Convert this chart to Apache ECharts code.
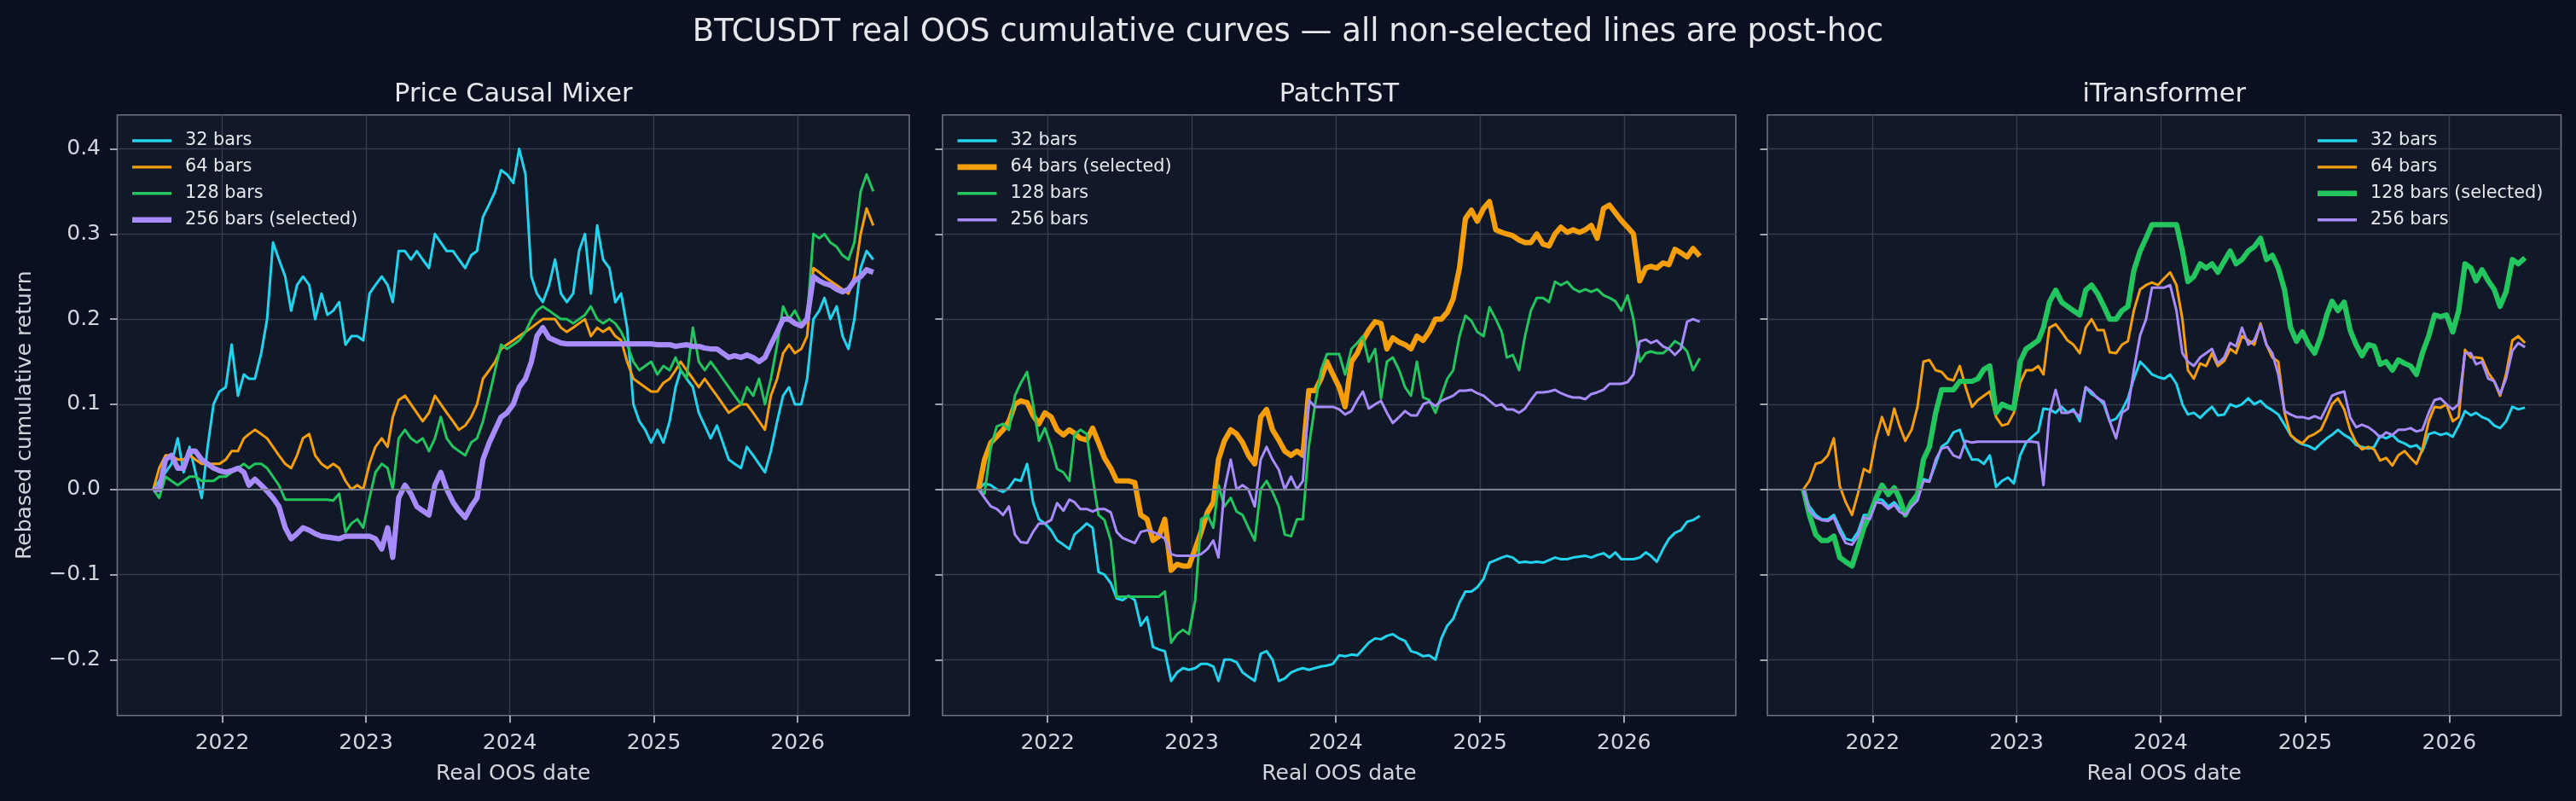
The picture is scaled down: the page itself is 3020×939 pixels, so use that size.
<!DOCTYPE html>
<html><head><meta charset="utf-8">
<script src="https://cdn.jsdelivr.net/npm/echarts@6/dist/echarts.min.js"></script>
<style>html,body{margin:0;padding:0;background:#0b1020;}#c{width:3020px;height:939px;}</style>
</head><body><div id="c"></div>
<script>
const suptitle = 'BTCUSDT real OOS cumulative curves \u2014 all non-selected lines are post-hoc';
const panelTitles = ['Price Causal Mixer', 'PatchTST', 'iTransformer'];
const lookbacks = ['32 bars', '64 bars', '128 bars', '256 bars'];
const selectedIdx = [3, 1, 2];
const xLabel = 'Real OOS date';
const yLabel = 'Rebased cumulative return';
const yearTicks = ['2022-01-01', '2023-01-01', '2024-01-01', '2025-01-01', '2026-01-01'];
const yTicks = [-0.2, -0.1, 0.0, 0.1, 0.2, 0.3, 0.4];

const dates = [
'2021-07-10','2021-07-25','2021-08-10','2021-08-25','2021-09-10','2021-09-25','2021-10-10','2021-10-25','2021-11-10','2021-11-25','2021-12-10','2021-12-25',
'2022-01-10','2022-01-25','2022-02-10','2022-02-25','2022-03-10','2022-03-25','2022-04-10','2022-04-25','2022-05-10','2022-05-25','2022-06-10','2022-06-25',
'2022-07-10','2022-07-25','2022-08-10','2022-08-25','2022-09-10','2022-09-25','2022-10-10','2022-10-25','2022-11-10','2022-11-25','2022-12-10','2022-12-25',
'2023-01-10','2023-01-25','2023-02-10','2023-02-25','2023-03-10','2023-03-25','2023-04-10','2023-04-25','2023-05-10','2023-05-25','2023-06-10','2023-06-25',
'2023-07-10','2023-07-25','2023-08-10','2023-08-25','2023-09-10','2023-09-25','2023-10-10','2023-10-25','2023-11-10','2023-11-25','2023-12-10','2023-12-25',
'2024-01-10','2024-01-25','2024-02-10','2024-02-25','2024-03-10','2024-03-25','2024-04-10','2024-04-25','2024-05-10','2024-05-25','2024-06-10','2024-06-25',
'2024-07-10','2024-07-25','2024-08-10','2024-08-25','2024-09-10','2024-09-25','2024-10-10','2024-10-25','2024-11-10','2024-11-25','2024-12-10','2024-12-25',
'2025-01-10','2025-01-25','2025-02-10','2025-02-25','2025-03-10','2025-03-25','2025-04-10','2025-04-25','2025-05-10','2025-05-25','2025-06-10','2025-06-25',
'2025-07-10','2025-07-25','2025-08-10','2025-08-25','2025-09-10','2025-09-25','2025-10-10','2025-10-25','2025-11-10','2025-11-25','2025-12-10','2025-12-25',
'2026-01-10','2026-01-25','2026-02-10','2026-02-25','2026-03-10','2026-03-25','2026-04-10','2026-04-25','2026-05-10','2026-05-25','2026-06-10','2026-06-25','2026-07-12'
];

// Price Causal Mixer
const pcm32 = [
0.0,0.01,0.02,0.03,0.06,0.02,0.05,0.02,-0.01,0.05,0.1,0.115,
0.12,0.17,0.11,0.135,0.13,0.13,0.16,0.2,0.29,0.27,0.25,0.21,0.24,0.25,0.24,0.2,0.23,0.205,0.21,0.22,0.17,0.18,0.18,0.175,
0.23,0.24,0.25,0.24,0.22,0.28,0.28,0.27,0.28,0.27,0.26,0.3,0.29,0.28,0.28,0.27,0.26,0.275,0.28,0.32,0.335,0.35,0.375,0.37,
0.36,0.4,0.37,0.25,0.23,0.22,0.24,0.27,0.23,0.22,0.23,0.28,0.3,0.23,0.31,0.27,0.26,0.22,0.23,0.19,0.1,0.08,0.07,0.055,
0.07,0.055,0.08,0.12,0.14,0.13,0.12,0.09,0.075,0.06,0.075,0.055,0.035,0.03,0.025,0.05,0.04,0.03,0.02,0.045,0.08,0.11,0.12,0.1,
0.1,0.13,0.2,0.21,0.225,0.2,0.215,0.18,0.165,0.2,0.26,0.28,0.27];
const pcm64 = [
0.0,0.025,0.04,0.04,0.035,0.035,0.04,0.035,0.03,0.03,0.03,0.03,
0.035,0.045,0.045,0.06,0.065,0.07,0.065,0.06,0.05,0.04,0.03,0.025,0.04,0.06,0.065,0.04,0.03,0.025,0.03,0.025,0.01,0.0,0.005,0.0,
0.03,0.05,0.06,0.05,0.085,0.105,0.11,0.1,0.09,0.08,0.09,0.11,0.1,0.09,0.08,0.07,0.075,0.085,0.1,0.13,0.14,0.15,0.165,0.17,
0.175,0.18,0.185,0.19,0.195,0.2,0.2,0.2,0.19,0.185,0.19,0.195,0.2,0.18,0.19,0.185,0.19,0.18,0.175,0.15,0.13,0.125,0.12,0.115,
0.115,0.125,0.13,0.14,0.15,0.14,0.13,0.12,0.13,0.12,0.11,0.1,0.09,0.095,0.1,0.1,0.09,0.08,0.07,0.11,0.13,0.16,0.17,0.16,
0.165,0.18,0.26,0.255,0.25,0.245,0.24,0.235,0.23,0.25,0.3,0.33,0.31];
const pcm128 = [
0.0,-0.01,0.015,0.01,0.005,0.01,0.015,0.015,0.01,0.01,0.01,0.015,
0.015,0.02,0.025,0.03,0.025,0.03,0.03,0.025,0.015,0.005,-0.012,-0.012,-0.012,-0.012,-0.012,-0.012,-0.012,-0.012,-0.013,-0.005,-0.05,-0.04,-0.035,-0.045,
-0.01,0.02,0.03,0.025,0.0,0.06,0.07,0.06,0.055,0.06,0.045,0.06,0.085,0.06,0.05,0.045,0.04,0.055,0.06,0.08,0.11,0.14,0.17,0.165,
0.17,0.175,0.185,0.2,0.21,0.215,0.21,0.205,0.2,0.2,0.195,0.2,0.205,0.215,0.2,0.195,0.2,0.195,0.185,0.17,0.15,0.14,0.145,0.15,
0.135,0.145,0.14,0.155,0.14,0.13,0.19,0.15,0.14,0.15,0.14,0.13,0.12,0.11,0.1,0.12,0.11,0.13,0.1,0.13,0.17,0.215,0.2,0.21,
0.195,0.2,0.3,0.295,0.3,0.29,0.285,0.275,0.27,0.29,0.35,0.37,0.35];
const pcm256 = [
0.0,0.0,0.035,0.04,0.025,0.025,0.045,0.045,0.035,0.03,0.025,0.022,
0.02,0.022,0.025,0.02,0.005,0.012,0.005,-0.002,-0.01,-0.02,-0.045,-0.058,-0.052,-0.045,-0.048,-0.052,-0.055,-0.056,-0.057,-0.058,-0.055,-0.055,-0.055,-0.055,
-0.055,-0.058,-0.07,-0.045,-0.08,-0.01,0.005,-0.005,-0.02,-0.025,-0.03,0.005,0.02,0.0,-0.015,-0.025,-0.033,-0.02,-0.01,0.035,0.055,0.07,0.085,0.09,
0.1,0.12,0.13,0.15,0.18,0.19,0.178,0.175,0.172,0.171,0.171,0.171,0.171,0.171,0.171,0.171,0.171,0.171,0.171,0.171,0.171,0.171,0.171,0.171,
0.17,0.17,0.17,0.168,0.169,0.17,0.168,0.168,0.166,0.165,0.165,0.16,0.155,0.157,0.155,0.158,0.155,0.15,0.155,0.17,0.185,0.2,0.2,0.195,
0.192,0.2,0.25,0.245,0.242,0.24,0.235,0.232,0.235,0.245,0.25,0.258,0.255];

// PatchTST
const pt32 = [
0.0,0.007,0.005,0.0,-0.003,0.002,0.012,0.01,0.03,-0.015,-0.035,-0.04,
-0.048,-0.06,-0.065,-0.07,-0.053,-0.047,-0.04,-0.045,-0.097,-0.1,-0.11,-0.128,-0.13,-0.125,-0.13,-0.16,-0.15,-0.185,-0.188,-0.19,-0.225,-0.215,-0.21,-0.212,
-0.21,-0.205,-0.205,-0.208,-0.225,-0.2,-0.2,-0.203,-0.215,-0.22,-0.225,-0.193,-0.19,-0.2,-0.225,-0.222,-0.215,-0.212,-0.21,-0.212,-0.21,-0.208,-0.207,-0.205,
-0.195,-0.196,-0.194,-0.195,-0.188,-0.18,-0.175,-0.176,-0.172,-0.17,-0.175,-0.178,-0.19,-0.192,-0.196,-0.195,-0.2,-0.175,-0.16,-0.152,-0.133,-0.12,-0.12,-0.115,
-0.105,-0.086,-0.083,-0.08,-0.078,-0.08,-0.086,-0.085,-0.086,-0.085,-0.086,-0.083,-0.08,-0.082,-0.082,-0.08,-0.079,-0.078,-0.08,-0.077,-0.075,-0.08,-0.074,-0.082,
-0.082,-0.082,-0.08,-0.074,-0.078,-0.085,-0.07,-0.058,-0.051,-0.048,-0.038,-0.036,-0.031];
const pt64 = [
0.0,0.035,0.055,0.062,0.07,0.08,0.1,0.104,0.102,0.087,0.077,0.09,
0.085,0.07,0.064,0.07,0.066,0.06,0.058,0.072,0.055,0.037,0.025,0.01,0.01,0.01,0.008,-0.03,-0.035,-0.06,-0.055,-0.035,-0.095,-0.088,-0.09,-0.09,
-0.07,-0.05,-0.027,-0.015,0.035,0.057,0.07,0.065,0.055,0.04,0.03,0.085,0.094,0.07,0.058,0.045,0.04,0.045,0.04,0.116,0.116,0.13,0.15,0.135,
0.12,0.097,0.15,0.16,0.175,0.187,0.197,0.195,0.165,0.178,0.173,0.17,0.165,0.18,0.175,0.185,0.2,0.2,0.208,0.224,0.26,0.318,0.328,0.315,
0.33,0.338,0.305,0.302,0.3,0.298,0.293,0.29,0.29,0.3,0.288,0.286,0.3,0.308,0.302,0.305,0.302,0.305,0.31,0.295,0.33,0.334,0.325,0.316,
0.308,0.3,0.245,0.26,0.262,0.26,0.266,0.264,0.282,0.278,0.273,0.283,0.274];
const pt128 = [
0.0,-0.005,0.05,0.074,0.077,0.07,0.11,0.125,0.138,0.1,0.057,0.072,
0.05,0.024,0.02,0.01,0.064,0.07,0.065,0.014,-0.03,-0.036,-0.06,-0.126,-0.126,-0.126,-0.126,-0.126,-0.126,-0.126,-0.126,-0.12,-0.18,-0.17,-0.165,-0.17,
-0.13,-0.035,-0.03,-0.045,0.005,-0.02,-0.01,-0.026,-0.03,-0.045,-0.06,0.0,0.01,-0.003,-0.02,-0.053,-0.055,-0.035,-0.035,0.05,0.1,0.14,0.159,0.159,
0.159,0.135,0.165,0.172,0.18,0.15,0.165,0.107,0.15,0.155,0.14,0.12,0.11,0.15,0.108,0.105,0.09,0.11,0.13,0.14,0.18,0.204,0.198,0.185,
0.18,0.214,0.2,0.185,0.155,0.158,0.14,0.18,0.21,0.225,0.225,0.22,0.244,0.24,0.244,0.236,0.232,0.235,0.232,0.235,0.228,0.225,0.221,0.21,
0.228,0.2,0.15,0.16,0.162,0.16,0.16,0.166,0.174,0.17,0.162,0.14,0.154];
const pt256 = [
0.0,-0.01,-0.02,-0.023,-0.03,-0.02,-0.053,-0.062,-0.063,-0.05,-0.04,-0.04,
-0.036,-0.016,-0.025,-0.012,-0.015,-0.023,-0.023,-0.026,-0.023,-0.023,-0.027,-0.05,-0.057,-0.06,-0.063,-0.05,-0.048,-0.05,-0.053,-0.058,-0.076,-0.078,-0.078,-0.078,
-0.078,-0.076,-0.07,-0.06,-0.08,0.0,0.035,0.0,0.005,0.0,-0.02,0.035,0.05,0.035,0.023,0.0,0.015,0.0,0.01,0.105,0.097,0.097,0.097,0.097,
0.094,0.088,0.092,0.105,0.115,0.095,0.1,0.104,0.09,0.078,0.085,0.092,0.087,0.087,0.1,0.103,0.098,0.104,0.107,0.11,0.116,0.116,0.117,0.113,
0.11,0.104,0.098,0.1,0.094,0.094,0.09,0.095,0.105,0.114,0.114,0.115,0.117,0.113,0.11,0.108,0.108,0.106,0.112,0.114,0.117,0.124,0.124,0.124,
0.126,0.135,0.174,0.176,0.172,0.175,0.168,0.165,0.158,0.165,0.197,0.2,0.197];

// iTransformer
const it32 = [
0.0,-0.02,-0.03,-0.035,-0.035,-0.03,-0.045,-0.058,-0.06,-0.05,-0.03,-0.03,
-0.012,-0.012,-0.02,-0.015,-0.022,-0.026,-0.018,-0.01,0.012,0.01,0.03,0.05,0.055,0.067,0.07,0.05,0.035,0.035,0.03,0.04,0.003,0.01,0.014,0.007,
0.04,0.055,0.062,0.068,0.095,0.094,0.09,0.097,0.09,0.094,0.08,0.12,0.112,0.108,0.1,0.08,0.083,0.093,0.107,0.13,0.15,0.143,0.135,0.132,
0.13,0.135,0.124,0.1,0.088,0.09,0.084,0.091,0.097,0.087,0.088,0.1,0.097,0.1,0.107,0.1,0.104,0.097,0.093,0.088,0.076,0.064,0.057,0.053,
0.051,0.047,0.054,0.06,0.064,0.07,0.064,0.06,0.052,0.05,0.048,0.05,0.063,0.06,0.064,0.057,0.054,0.05,0.052,0.045,0.065,0.067,0.064,0.066,
0.062,0.075,0.092,0.087,0.09,0.085,0.082,0.075,0.072,0.08,0.097,0.094,0.096];
const it64 = [
0.0,0.01,0.03,0.032,0.04,0.06,0.004,-0.015,-0.03,-0.005,0.024,0.02,
0.06,0.085,0.064,0.095,0.075,0.057,0.07,0.097,0.15,0.152,0.14,0.138,0.13,0.128,0.145,0.12,0.097,0.105,0.11,0.115,0.085,0.075,0.077,0.09,
0.125,0.14,0.14,0.145,0.135,0.19,0.194,0.185,0.175,0.17,0.16,0.19,0.2,0.187,0.187,0.161,0.16,0.17,0.174,0.21,0.235,0.24,0.243,0.24,
0.248,0.255,0.24,0.2,0.14,0.13,0.148,0.145,0.16,0.145,0.151,0.165,0.16,0.18,0.175,0.17,0.195,0.17,0.155,0.15,0.09,0.064,0.058,0.054,
0.062,0.065,0.07,0.085,0.1,0.107,0.094,0.07,0.055,0.047,0.05,0.047,0.034,0.037,0.028,0.04,0.045,0.037,0.03,0.047,0.08,0.097,0.096,0.1,
0.08,0.085,0.164,0.155,0.155,0.154,0.137,0.127,0.11,0.135,0.175,0.18,0.172];
const it128 = [
0.0,-0.03,-0.053,-0.06,-0.06,-0.055,-0.08,-0.085,-0.09,-0.068,-0.045,-0.03,
-0.01,0.005,-0.006,0.002,-0.01,-0.03,-0.015,-0.006,0.035,0.05,0.09,0.117,0.117,0.117,0.127,0.127,0.127,0.13,0.141,0.145,0.09,0.1,0.097,0.095,
0.15,0.165,0.17,0.175,0.19,0.22,0.234,0.22,0.215,0.21,0.205,0.234,0.24,0.23,0.215,0.2,0.2,0.21,0.215,0.257,0.28,0.295,0.311,0.311,
0.311,0.311,0.311,0.28,0.244,0.25,0.265,0.26,0.265,0.255,0.268,0.28,0.265,0.27,0.28,0.285,0.295,0.27,0.275,0.26,0.234,0.19,0.174,0.185,
0.17,0.16,0.18,0.205,0.221,0.21,0.22,0.187,0.17,0.157,0.17,0.168,0.147,0.15,0.14,0.152,0.148,0.145,0.135,0.16,0.18,0.205,0.203,0.205,
0.185,0.21,0.265,0.26,0.245,0.258,0.245,0.235,0.215,0.232,0.27,0.265,0.272];
const it256 = [
0.0,-0.025,-0.033,-0.036,-0.037,-0.033,-0.05,-0.063,-0.065,-0.055,-0.033,-0.035,
-0.015,-0.016,-0.023,-0.018,-0.026,-0.03,-0.02,-0.013,0.01,0.009,0.035,0.048,0.05,0.04,0.037,0.057,0.055,0.056,0.056,0.056,0.056,0.056,0.056,0.056,
0.056,0.056,0.056,0.055,0.005,0.088,0.117,0.09,0.09,0.092,0.085,0.12,0.115,0.107,0.103,0.08,0.06,0.09,0.095,0.14,0.181,0.2,0.237,0.237,
0.237,0.24,0.21,0.16,0.15,0.145,0.155,0.16,0.165,0.148,0.155,0.172,0.168,0.19,0.17,0.175,0.193,0.17,0.16,0.135,0.092,0.088,0.085,0.085,
0.083,0.086,0.083,0.097,0.11,0.113,0.115,0.085,0.073,0.076,0.073,0.068,0.061,0.067,0.064,0.07,0.07,0.072,0.068,0.07,0.09,0.105,0.107,0.1,
0.094,0.1,0.16,0.16,0.147,0.15,0.13,0.127,0.112,0.13,0.163,0.172,0.167];

const panelData = [[pcm32, pcm64, pcm128, pcm256], [pt32, pt64, pt128, pt256], [it32, it64, it128, it256]];

// ---------- styling / layout ----------
const FF = 'DejaVu Sans';
const colors = ['#22d3ee', '#f59e0b', '#22c55e', '#a78bfa'];
const TXT = '#e5e7eb', TICK = '#d1d5db';
const grids = [{left: 137.5, width: 928.5}, {left: 1105, width: 930}, {left: 2072, width: 930.5}];
const legendLeft = [155, 1122.5, 2717];
const GTOP = 134.7, GH = 704;
const thinIcon = 'path://M0 0H46V3.4H0Z';
const thickIcon = 'path://M0 0H46V6.6H0Z';

const toTs = d => Date.parse(d + 'T00:00:00Z');
const ts = dates.map(toTs);
const span = ts[ts.length - 1] - ts[0];
const xMin = ts[0] - 0.05 * span, xMax = ts[ts.length - 1] + 0.05 * span;
const yearTs = yearTicks.map(toTs);
const yMin = -0.2655, yMax = 0.4399;
const fmtY = v => (v < -1e-9 ? '\u2212' : '') + Math.abs(v).toFixed(1);

const nameOf = (p, k) => lookbacks[k] + (selectedIdx[p] === k ? ' (selected)' : '');

const titles = [{text: suptitle, left: 'center', top: 20.0, padding: 0,
  textStyle: {color: TXT, fontSize: 37, fontWeight: 'normal', fontFamily: FF}}];
const gridOpt = [], xAxes = [], yAxes = [], legends = [], series = [];

grids.forEach((g, p) => {
  titles.push({text: panelTitles[p], left: g.left + g.width / 2, textAlign: 'center', top: 95.5, padding: 0,
    textStyle: {color: TXT, fontSize: 30.5, fontWeight: 'normal', fontFamily: FF}});
  gridOpt.push({left: g.left, top: GTOP, width: g.width, height: GH, show: true, backgroundColor: '#111827',
    borderColor: '#6b7280', borderWidth: 1.6, containLabel: false, outerBoundsMode: 'none'});
  xAxes.push({type: 'value', gridIndex: p, min: xMin, max: xMax,
    name: xLabel, nameLocation: 'middle', nameGap: 56,
    nameTextStyle: {color: TICK, fontSize: 25, fontFamily: FF},
    axisLine: {show: false, onZero: false},
    axisTick: {show: true, customValues: yearTs, length: 8.5, lineStyle: {color: TICK, width: 1.5}},
    axisLabel: {customValues: yearTs, formatter: v => String(new Date(v).getUTCFullYear()), margin: 20.5,
      color: TICK, fontSize: 25, fontFamily: FF},
    splitLine: {show: true, lineStyle: {color: '#353c4b', width: 1.4}}});
  yAxes.push({type: 'value', gridIndex: p, min: yMin, max: yMax,
    name: p === 0 ? yLabel : '', nameLocation: 'middle', nameGap: 95.6, nameRotate: 90,
    nameTextStyle: {color: TICK, fontSize: 25, fontFamily: FF},
    axisLine: {show: false, onZero: false},
    axisTick: {show: true, customValues: yTicks, length: 8.5, lineStyle: {color: TICK, width: 1.5}},
    axisLabel: {show: p === 0, customValues: yTicks, formatter: fmtY, margin: 19.5, padding: [4, 0, 0, 0],
      color: TICK, fontSize: 25, fontFamily: FF},
    splitLine: {show: true, lineStyle: {color: '#353c4b', width: 1.4}}});
  legends.push({orient: 'vertical', left: legendLeft[p], top: 154.5, padding: 0,
    itemWidth: 46, itemHeight: 10, itemGap: 9.9, selectedMode: false,
    itemStyle: {borderWidth: 0},
    textStyle: {color: TXT, fontSize: 20.8, fontFamily: FF, lineHeight: 21, padding: [0, 0, 0, 11]},
    data: lookbacks.map((_, k) => ({name: nameOf(p, k), icon: selectedIdx[p] === k ? thickIcon : thinIcon}))});
  panelData[p].forEach((vals, k) => {
    const sel = selectedIdx[p] === k;
    const s = {type: 'line', name: nameOf(p, k), xAxisIndex: p, yAxisIndex: p,
      data: ts.map((t, i) => [t, vals[i]]), showSymbol: false, symbol: 'none', silent: true,
      color: colors[k], itemStyle: {color: colors[k]},
      lineStyle: {color: colors[k], width: sel ? 6.2 : 3.0, join: 'round'}};
    if (k === 0) {
      s.markLine = {silent: true, symbol: ['none', 'none'], label: {show: false},
        lineStyle: {color: '#7b8190', width: 2, type: 'solid'}, data: [{yAxis: 0}], animation: false};
    }
    series.push(s);
  });
});

const chart = echarts.init(document.getElementById('c'), null, {renderer: 'canvas'});
chart.setOption({backgroundColor: '#0b1020', animation: false, title: titles, grid: gridOpt,
  xAxis: xAxes, yAxis: yAxes, legend: legends, series: series});
</script></body></html>
